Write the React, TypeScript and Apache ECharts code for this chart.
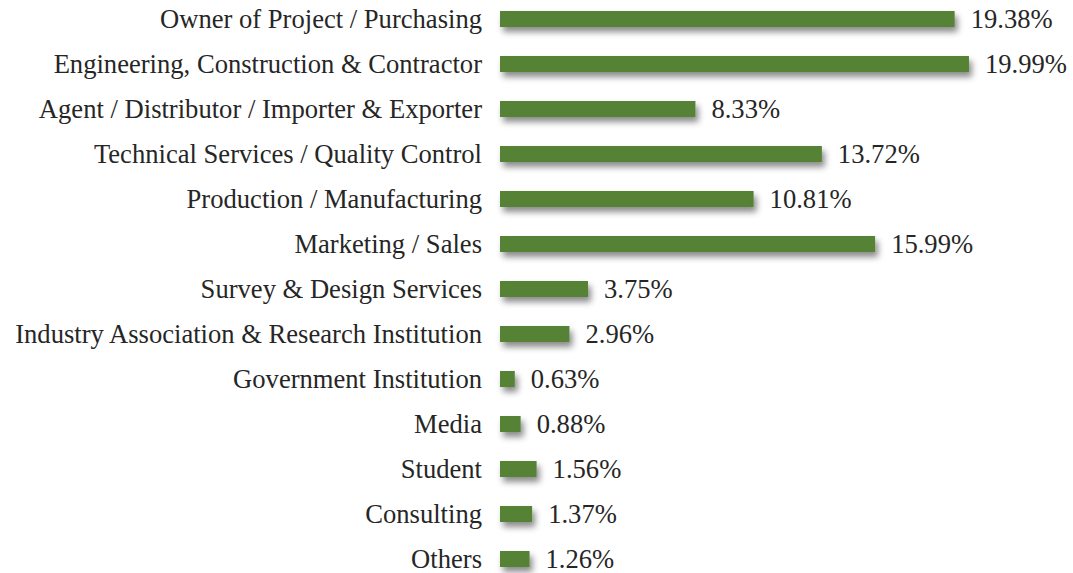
import React, { useEffect, useRef } from "react";
import * as echarts from "echarts";

const categories = [
  "Owner of Project / Purchasing",
  "Engineering, Construction & Contractor",
  "Agent / Distributor / Importer & Exporter",
  "Technical Services / Quality Control",
  "Production / Manufacturing",
  "Marketing / Sales",
  "Survey & Design Services",
  "Industry Association & Research Institution",
  "Government Institution",
  "Media",
  "Student",
  "Consulting",
  "Others",
];

const shares = [19.38, 19.99, 8.33, 13.72, 10.81, 15.99, 3.75, 2.96, 0.63, 0.88, 1.56, 1.37, 1.26];

export default function App() {
  const ref = useRef<HTMLDivElement>(null);
  useEffect(() => {
    if (!ref.current) return;
    const chart = echarts.init(ref.current, null, { renderer: "svg" });
    const font = "'Liberation Serif', 'Times New Roman', serif";
    chart.setOption({
      animation: false,
      backgroundColor: "#ffffff",
      grid: { left: 500, width: 469.2, top: 16.5, height: 585, containLabel: false },
      xAxis: {
        type: "value",
        min: 0,
        max: 20,
        show: false,
      },
      yAxis: {
        type: "category",
        inverse: true,
        data: categories,
        axisLine: { show: false },
        axisTick: { show: false },
        splitLine: { show: false },
        axisLabel: {
          margin: 18,
          fontFamily: font,
          fontSize: 26.6,
          color: "#262626",
        },
      },
      series: [
        {
          type: "bar",
          data: shares,
          barWidth: 16,
          itemStyle: {
            color: "#548235",
            shadowColor: "rgba(0,0,0,0.45)",
            shadowBlur: 6,
            shadowOffsetX: 3,
            shadowOffsetY: 5,
          },
          label: {
            show: true,
            position: "right",
            distance: 16,
            formatter: (p: any) => p.value.toFixed(2) + "%",
            fontFamily: font,
            fontSize: 26.6,
            color: "#262626",
          },
        },
      ],
    });
    return () => chart.dispose();
  }, []);
  return (
    <div
      ref={ref}
      style={{ position: "fixed", left: 0, top: -20, width: 1073, height: 613 }}
    />
  );
}
